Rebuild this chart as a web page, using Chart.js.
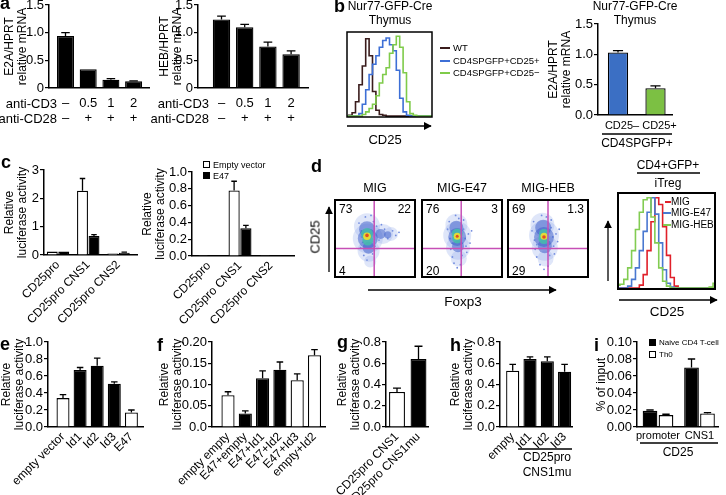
<!DOCTYPE html>
<html lang="fr">
<head>
<meta charset="utf-8">
<title>Figure E2A / HEB / CD25</title>
<script src="https://cdn.jsdelivr.net/npm/chart.js@4.4.1/dist/chart.umd.min.js"></script>
<style>
  html, body { margin: 0; padding: 0; background: #fff; }
  #fig { position: relative; width: 726px; height: 495px; overflow: hidden;
         font-family: 'Liberation Sans', Arial, Helvetica, sans-serif; color: #000; }
  #fig canvas, #fig svg { position: absolute; left: 0; top: 0; }
  .t { position: absolute; white-space: nowrap; line-height: 1; }
  .vertical { writing-mode: vertical-rl; }
  .lettre { position: absolute; font-weight: bold; font-size: 18px; line-height: 1; }
  .carre { position: absolute; width: 7px; height: 7px; border: 1px solid #000; box-sizing: border-box; }
  .trait { position: absolute; height: 2px; }
</style>
</head>
<body>
<div id="fig"></div>
<script>
// ---------- Données ----------

// a : ARNm relatif après stimulation anti-CD3 / anti-CD28
const aCategories = [['–', '–'], ['0.5', '+'], ['1', '+'], ['2', '+']];
const aTicks = ['0', '0.5', '1.0', '1.5'];
const aE2A = [0.94, 0.34, 0.15, 0.12];
const aE2AErr = [0.06, 0, 0.02, 0.01];
const aHEB = [1.24, 1.10, 0.75, 0.61];
const aHEBErr = [0.06, 0.05, 0.08, 0.06];

// b : histogrammes CD25 (thymus) + ARNm E2A
const histBins = [0, 4, 8, 12, 16, 20, 24, 28, 32, 36, 40, 44, 48, 52, 56, 60, 64, 68, 72, 76, 80, 84, 88, 92, 96, 100];
const bWT      = [1, 2, 5, 18, 38, 60, 92, 72, 30, 8, 3, 2, 1, 1, 1, 1, 1, 1, 1, 1, 1, 1, 1, 1, 1, 1];
const bCD25pos = [1, 1, 1, 1, 4, 15, 32, 50, 62, 72, 82, 90, 93, 85, 78, 55, 22, 6, 2, 1, 1, 1, 1, 1, 1, 1];
const bCD25neg = [1, 1, 1, 1, 1, 3, 6, 10, 15, 25, 40, 50, 58, 75, 85, 95, 82, 52, 18, 4, 2, 1, 1, 1, 1, 1];
const bCategories = ['CD25–', 'CD25+'];
const bTicks = ['0.0', '0.5', '1.0', '1.5'];
const bE2A = [1.03, 0.44];
const bE2AErr = [0.03, 0.04];

// c : activité luciférase, vecteur vide vs E47
const cCategories = ['CD25pro', 'CD25pro CNS1', 'CD25pro CNS2'];
const cTicksLeft = ['0', '1', '2', '3'];
const cEmptyLeft = [0.12, 2.27, 0.05];
const cEmptyLeftErr = [0, 0.43, 0];
const cE47Left = [0.12, 0.67, 0.08];
const cE47LeftErr = [0, 0.05, 0.02];
const cTicksRight = ['0.0', '0.2', '0.4', '0.6', '0.8', '1.0'];
const cEmptyRight = [0.01, 0.78, 0.01];
const cEmptyRightErr = [0, 0.11, 0];
const cE47Right = [0.01, 0.33, 0.01];
const cE47RightErr = [0, 0.035, 0];

// d : cytométrie (nuages Foxp3 / CD25, quadrants, histogrammes iTreg)
const dTitles = ['MIG', 'MIG-E47', 'MIG-HEB'];
const dQuadrants = [['73', '22', '4'], ['76', '3', '20'], ['69', '1.3', '29']];
const dGateX = [49, 49, 50];
const dGateY = [37, 37, 37];
// couches de densité : halo, bleu, cyan, jaune, rouge
const dCloudMIG = [
  [{ x: 40, y: 66, r: 13 }, { x: 41, y: 50, r: 15 }, { x: 42, y: 34, r: 11 }, { x: 44, y: 20, r: 6 }, { x: 60, y: 56, r: 10 }, { x: 70, y: 56, r: 7 }],
  [{ x: 40, y: 62, r: 8 }, { x: 41, y: 50, r: 10 }, { x: 42, y: 38, r: 6 }, { x: 57, y: 56, r: 5 }, { x: 66, y: 55, r: 3.5 }],
  [{ x: 40, y: 56, r: 6 }, { x: 41, y: 48, r: 5.5 }],
  [{ x: 40, y: 53, r: 3.8 }],
  [{ x: 40, y: 54, r: 1.8 }]
];
const dCloudE47 = [
  [{ x: 43, y: 68, r: 11 }, { x: 44, y: 54, r: 14 }, { x: 45, y: 38, r: 12 }, { x: 46, y: 24, r: 8 }],
  [{ x: 43, y: 64, r: 7 }, { x: 44, y: 52, r: 9 }, { x: 45, y: 40, r: 6 }],
  [{ x: 44, y: 56, r: 5.5 }, { x: 44, y: 50, r: 5 }],
  [{ x: 44, y: 53, r: 3.5 }],
  [{ x: 44, y: 53, r: 1.5 }]
];
const dCloudHEB = [
  [{ x: 43, y: 68, r: 12 }, { x: 45, y: 54, r: 15 }, { x: 46, y: 38, r: 13 }, { x: 47, y: 24, r: 8 }],
  [{ x: 44, y: 64, r: 8 }, { x: 45, y: 52, r: 10 }, { x: 46, y: 40, r: 7 }],
  [{ x: 45, y: 56, r: 5 }, { x: 45, y: 50, r: 5.5 }],
  [{ x: 45, y: 53, r: 3.5 }],
  [{ x: 45, y: 52, r: 1.8 }]
];
// événements isolés autour des nuages
const dSparseMIG = [[30, 70], [33, 60], [35, 45], [32, 38], [36, 28], [48, 72], [52, 66], [55, 48], [62, 62], [66, 50],
                    [72, 60], [76, 54], [80, 58], [38, 78], [45, 80], [50, 40], [47, 30], [40, 22], [34, 52], [58, 68]];
const dSparseE47 = [[32, 62], [35, 50], [36, 36], [38, 26], [40, 18], [52, 62], [54, 50], [55, 40], [50, 28], [48, 16],
                    [42, 80], [46, 76], [58, 56], [60, 44], [34, 72], [52, 74], [44, 12], [38, 44], [56, 32], [62, 60]];
const dSparseHEB = [[30, 60], [33, 48], [34, 36], [36, 26], [40, 16], [54, 64], [56, 52], [57, 40], [52, 28], [50, 14],
                    [42, 80], [48, 78], [60, 56], [62, 46], [32, 72], [54, 74], [45, 10], [36, 42], [58, 30], [64, 62]];
const dMIG = [1, 1, 1, 1, 1, 1, 4, 15, 40, 70, 95, 88, 65, 35, 12, 3, 1, 1, 1, 1, 1, 1, 1, 1, 1, 1];
const dE47 = [1, 1, 1, 3, 10, 22, 40, 60, 80, 95, 78, 48, 20, 6, 2, 1, 1, 1, 1, 1, 1, 1, 1, 1, 1, 1];
const dHEB = [4, 5, 10, 22, 40, 62, 80, 93, 95, 75, 48, 22, 8, 3, 1, 1, 1, 1, 1, 1, 1, 1, 1, 1, 2, 6];

// e : Id1-3 / E47
const eCategories = ['empty vector', 'Id1', 'Id2', 'Id3', 'E47'];
const eTicks = ['0.0', '0.2', '0.4', '0.6', '0.8', '1.0'];
const eValues = [0.34, 0.67, 0.72, 0.51, 0.17];
const eErr = [0.04, 0.03, 0.09, 0.02, 0.03];

// f : combinaisons E47 + Id
const fCategories = ['empty empty', 'E47+empty', 'E47+Id1', 'E47+Id2', 'E47+Id3', 'empty+Id2'];
const fTicks = ['0.0', '0.05', '0.10', '0.15', '0.20'];
const fValues = [0.075, 0.032, 0.115, 0.135, 0.11, 0.169];
const fErr = [0.008, 0.006, 0.017, 0.018, 0.015, 0.013];

// g : CNS1 muté
const gCategories = ['CD25pro CNS1', 'CD25pro CNS1mu'];
const gTicks = ['0.0', '0.2', '0.4', '0.6', '0.8'];
const gValues = [0.33, 0.64];
const gErr = [0.035, 0.12];

// h : CNS1 muté + Id
const hCategories = ['empty', 'Id1', 'Id2', 'Id3'];
const hTicks = ['0.0', '0.2', '0.4', '0.6', '0.8'];
const hValues = [0.53, 0.64, 0.62, 0.52];
const hErr = [0.06, 0.02, 0.04, 0.07];

// i : ChIP (% of input)
const iCategories = ['promoter', 'CNS1'];
const iTicks = ['0.00', '0.02', '0.04', '0.06', '0.08', '0.10'];
const iNaive = [0.019, 0.07];
const iNaiveErr = [0.001, 0.01];
const iTh0 = [0.014, 0.016];
const iTh0Err = [0.001, 0.001];

// ---------- Dessin ----------
document.addEventListener('DOMContentLoaded', () => {
  const W = 726, H = 495;
  const TITLE_LH = 13;
  const fig = document.getElementById('fig');

  Chart.defaults.font.family = "'Liberation Sans', Arial, Helvetica, sans-serif";
  Chart.defaults.color = '#000';

  const WHITE = '#ffffff';
  const BLACK = '#000000';
  const GATE = '#c64fb6';
  const cloudColors = ['rgba(130,160,230,0.26)', 'rgba(55,90,200,0.5)', 'rgba(70,190,170,0.85)',
                       'rgba(235,220,50,0.95)', 'rgba(225,70,35,0.95)'];
  const SPARSE = 'rgba(60,95,210,0.75)';

  // Barres d'erreur (seulement vers le haut)
  const errorBars = {
    id: 'errorBars',
    afterDatasetsDraw(chart) {
      const { ctx } = chart;
      const y = chart.scales.y;
      ctx.save();
      ctx.strokeStyle = '#000';
      ctx.lineWidth = 1.3;
      chart.data.datasets.forEach((ds, i) => {
        if (!ds.errors) return;
        chart.getDatasetMeta(i).data.forEach((bar, j) => {
          const err = ds.errors[j];
          if (!err) return;
          const top = y.getPixelForValue(ds.data[j].y + err);
          const half = bar.width / 4;
          ctx.beginPath();
          ctx.moveTo(bar.x, bar.y);
          ctx.lineTo(bar.x, top);
          ctx.moveTo(bar.x - half, top);
          ctx.lineTo(bar.x + half, top);
          ctx.stroke();
        });
      });
      ctx.restore();
    }
  };

  // Cadre autour de la zone de tracé
  const frame = {
    id: 'frame',
    afterDraw(chart, args, opts) {
      const { ctx, chartArea: a } = chart;
      ctx.save();
      ctx.strokeStyle = '#000';
      ctx.lineWidth = opts.width || 1.5;
      ctx.strokeRect(a.left, a.top, a.right - a.left, a.bottom - a.top);
      ctx.restore();
    }
  };

  function newCanvas() {
    const c = document.createElement('canvas');
    c.width = W;
    c.height = H;
    c.style.width = W + 'px';
    c.style.height = H + 'px';
    fig.appendChild(c);
    return c;
  }

  function baseOptions(padding) {
    return {
      responsive: false,
      devicePixelRatio: 1,
      animation: false,
      events: [],
      layout: { padding },
      plugins: { legend: { display: false }, tooltip: { enabled: false } }
    };
  }

  // Graphique en barres : g = géométrie de la zone de tracé
  function barChart(g, categories, tickText, yMax, series, title) {
    const yWidth = g.l - g.titleX + TITLE_LH / 2;
    const xHeight = H - g.b; // la zone des étiquettes va jusqu'en bas (sinon elles sont coupées)
    return new Chart(newCanvas(), {
      type: 'bar',
      data: {
        datasets: series.map(s => ({
          data: s.values.map((v, i) => ({ x: i, y: v })),
          errors: s.errors,
          backgroundColor: s.fill,
          borderColor: BLACK,
          borderWidth: 1.3,
          categoryPercentage: g.cp || 1,
          barPercentage: g.bp
        }))
      },
      options: {
        ...baseOptions({ left: g.l - yWidth, top: g.t, right: W - g.r, bottom: 0 }),
        scales: {
          x: {
            type: 'linear',
            min: (g.l - g.c0) / g.dx,
            max: (g.r - g.c0) / g.dx,
            offset: false,
            grid: { drawOnChartArea: false, drawTicks: false },
            border: { display: true, color: BLACK, width: 1.5 },
            ticks: {
              autoSkip: false,
              minRotation: g.rot || 0,
              maxRotation: g.rot || 0,
              padding: g.pad,
              labelOffset: g.shift || 0,
              font: { size: g.fs || 12, lineHeight: 1.15 },
              callback: v => categories[v]
            },
            afterBuildTicks: s => { s.ticks = categories.map((_, i) => ({ value: i })); },
            afterFit: s => { s.height = xHeight; s.paddingLeft = 0; s.paddingRight = 0; }
          },
          y: {
            min: 0,
            max: yMax,
            grid: { drawOnChartArea: false, drawTicks: true, tickLength: 4, color: BLACK, lineWidth: 1.2 },
            border: { display: true, color: BLACK, width: 1.5 },
            ticks: { autoSkip: false, padding: 1, font: { size: 13 }, callback: (v, i) => tickText[i] },
            afterBuildTicks: s => {
              s.ticks = tickText.map((_, i) => ({ value: yMax * i / (tickText.length - 1) }));
            },
            title: { display: true, text: title, padding: 0, font: { size: 12, lineHeight: TITLE_LH + 'px' } },
            afterFit: s => { s.width = yWidth; s.paddingTop = 0; s.paddingBottom = 0; }
          }
        }
      },
      plugins: [errorBars]
    });
  }

  // Histogramme de cytométrie
  function histChart(box, curves) {
    return new Chart(newCanvas(), {
      type: 'line',
      data: {
        datasets: curves.map(c => ({
          data: histBins.map((x, i) => ({ x, y: c.values[i] })),
          borderColor: c.color,
          borderWidth: 1.6,
          pointRadius: 0,
          stepped: 'middle',
          fill: false
        }))
      },
      options: {
        ...baseOptions({ left: box.l, top: box.t, right: W - box.r, bottom: H - box.b }),
        scales: {
          x: { type: 'linear', min: 0, max: 100, display: false },
          y: { min: 0, max: 100, display: false }
        },
        plugins: { legend: { display: false }, tooltip: { enabled: false }, frame: { width: box.frame } }
      },
      plugins: [frame]
    });
  }

  // Nuage de points Foxp3 / CD25 avec quadrants
  function dotPlot(box, cloud, sparse, gateX, gateY) {
    const sets = cloud.map((layer, k) => ({
      type: 'bubble',
      data: layer,
      backgroundColor: cloudColors[k],
      borderWidth: 0,
      order: 10 - k
    }));
    sets.push({ type: 'bubble', data: sparse.map(p => ({ x: p[0], y: p[1], r: 0.9 })), backgroundColor: SPARSE, borderWidth: 0, order: 11 });
    sets.push({ type: 'line', data: [{ x: gateX, y: 0 }, { x: gateX, y: 100 }], borderColor: GATE, borderWidth: 1.5, pointRadius: 0, order: 0 });
    sets.push({ type: 'line', data: [{ x: 0, y: gateY }, { x: 100, y: gateY }], borderColor: GATE, borderWidth: 1.5, pointRadius: 0, order: 0 });
    return new Chart(newCanvas(), {
      type: 'bubble',
      data: { datasets: sets },
      options: {
        ...baseOptions({ left: box.l, top: box.t, right: W - box.r, bottom: H - box.b }),
        scales: {
          x: { type: 'linear', min: 0, max: 100, display: false },
          y: { min: 0, max: 100, display: false }
        },
        plugins: { legend: { display: false }, tooltip: { enabled: false }, frame: { width: 2 } }
      },
      plugins: [frame]
    });
  }

  // Texte HTML positionné par son centre (ou bord)
  function txt(s, x, y, o = {}) {
    const d = document.createElement('div');
    d.className = 't';
    d.textContent = s;
    d.style.left = x + 'px';
    d.style.top = y + 'px';
    d.style.fontSize = (o.size || 12) + 'px';
    const ax = o.align === 'left' ? '0' : o.align === 'right' ? '-100%' : '-50%';
    if (o.vertical) {
      // texte qui se lit de bas en haut
      d.classList.add('vertical');
      d.style.transform = 'translate(-50%, -50%) rotate(180deg)';
    } else {
      d.style.transform = `translate(${ax}, -50%)`;
    }
    fig.appendChild(d);
  }

  function letter(ch, x, baseline) {
    const d = document.createElement('div');
    d.className = 'lettre';
    d.textContent = ch;
    d.style.left = x + 'px';
    d.style.top = (baseline - 15.2) + 'px';
    fig.appendChild(d);
  }

  function square(x, y, fill) {
    const d = document.createElement('div');
    d.className = 'carre';
    d.style.left = x + 'px';
    d.style.top = y + 'px';
    d.style.background = fill;
    fig.appendChild(d);
  }

  function dash(x, y, w, color) {
    const d = document.createElement('div');
    d.className = 'trait';
    d.style.left = x + 'px';
    d.style.top = (y - 1) + 'px';
    d.style.width = w + 'px';
    d.style.background = color;
    fig.appendChild(d);
  }

  // ---- a
  barChart({ l: 49, t: 5, r: 149, b: 88, c0: 65.5, dx: 22.7, bp: 0.75, titleX: 10, pad: 7.5, fs: 13 },
    aCategories, aTicks, 1.5,
    [{ values: aE2A, errors: aE2AErr, fill: BLACK }], ['E2A/HPRT', 'relative mRNA']);
  barChart({ l: 198, t: 5, r: 308, b: 88, c0: 221.5, dx: 23.2, bp: 0.75, titleX: 165, pad: 7.5, fs: 13 },
    aCategories, aTicks, 1.5,
    [{ values: aHEB, errors: aHEBErr, fill: BLACK }], ['HEB/HPRT', 'relative mRNA']);

  // ---- b
  histChart({ l: 347, t: 32, r: 432, b: 117, frame: 1.5 }, [
    { values: bCD25neg, color: '#7fcb4a' },
    { values: bCD25pos, color: '#3d6fd6' },
    { values: bWT, color: '#3a1c1c' }
  ]);
  barChart({ l: 598, t: 24, r: 672, b: 115, c0: 618, dx: 37.5, bp: 0.54, titleX: 554, pad: 5, shift: 4, fs: 11 },
    bCategories, bTicks, 1.5,
    [{ values: bE2A, errors: bE2AErr, fill: ['#3b6fc4', '#7cc043'] }], ['E2A/HPRT', 'relative mRNA']);

  // ---- c
  barChart({ l: 44, t: 170, r: 137, b: 255, c0: 58, dx: 30.25, cp: 0.76, bp: 0.95, titleX: 10, rot: 45, pad: 3 },
    cCategories, cTicksLeft, 3,
    [{ values: cEmptyLeft, errors: cEmptyLeftErr, fill: WHITE },
     { values: cE47Left, errors: cE47LeftErr, fill: BLACK }], ['Relative', 'luciferase activity']);
  barChart({ l: 192, t: 172, r: 294, b: 256, c0: 209, dx: 31, cp: 0.76, bp: 0.95, titleX: 148, rot: 45, pad: 3 },
    cCategories, cTicksRight, 1.0,
    [{ values: cEmptyRight, errors: cEmptyRightErr, fill: WHITE },
     { values: cE47Right, errors: cE47RightErr, fill: BLACK }], ['Relative', 'luciferase activity']);

  // ---- d
  const dBoxes = [{ l: 335, t: 200, r: 415, b: 277 }, { l: 422, t: 200, r: 502, b: 277 }, { l: 508, t: 200, r: 588, b: 277 }];
  const dClouds = [dCloudMIG, dCloudE47, dCloudHEB];
  const dSparse = [dSparseMIG, dSparseE47, dSparseHEB];
  dBoxes.forEach((box, k) => {
    dotPlot(box, dClouds[k], dSparse[k], dGateX[k], dGateY[k]);
    txt(dTitles[k], (box.l + box.r) / 2, 188, { size: 12.5 });
    txt(dQuadrants[k][0], box.l + 4, box.t + 9, { size: 12, align: 'left' });
    txt(dQuadrants[k][1], box.r - 4, box.t + 9, { size: 12, align: 'right' });
    txt(dQuadrants[k][2], box.l + 4, box.t + 71, { size: 12, align: 'left' });
  });
  histChart({ l: 618, t: 193, r: 715, b: 289, frame: 2 }, [
    { values: dHEB, color: '#82cc52' },
    { values: dE47, color: '#4a78d0' },
    { values: dMIG, color: '#e0202a' }
  ]);

  // ---- e à i
  barChart({ l: 48, t: 342, r: 143, b: 427, c0: 63, dx: 17.1, bp: 0.76, titleX: 7, rot: 45, pad: 3 },
    eCategories, eTicks, 1.0,
    [{ values: eValues, errors: eErr, fill: [WHITE, BLACK, BLACK, BLACK, WHITE] }], ['Relative', 'luciferase activity']);
  barChart({ l: 212, t: 342, r: 325, b: 427, c0: 228, dx: 17.3, bp: 0.76, titleX: 165, rot: 45, pad: 3 },
    fCategories, fTicks, 0.2,
    [{ values: fValues, errors: fErr, fill: [WHITE, BLACK, BLACK, BLACK, WHITE, WHITE] }], ['Relative', 'luciferase activity']);
  barChart({ l: 386, t: 342, r: 428, b: 427, c0: 397, dx: 21.5, bp: 0.74, titleX: 343, rot: 45, pad: 3 },
    gCategories, gTicks, 0.8,
    [{ values: gValues, errors: gErr, fill: [WHITE, BLACK] }], ['Relative', 'luciferase activity']);
  barChart({ l: 500, t: 342, r: 572, b: 427, c0: 512.7, dx: 17.3, bp: 0.76, titleX: 456, rot: 45, pad: 3 },
    hCategories, hTicks, 0.8,
    [{ values: hValues, errors: hErr, fill: [WHITE, BLACK, BLACK, BLACK] }], ['Relative', 'luciferase activity']);
  barChart({ l: 637, t: 342, r: 718, b: 427, c0: 658, dx: 41.5, cp: 0.77, bp: 0.92, titleX: 602, pad: 3, fs: 11 },
    iCategories, iTicks, 0.10,
    [{ values: iNaive, errors: iNaiveErr, fill: BLACK },
     { values: iTh0, errors: iTh0Err, fill: WHITE }], '% of input');

  // ---- Textes, légendes et flèches
  [['a', 0, 9], ['b', 334, 12], ['c', 1, 168], ['d', 311, 172], ['e', 0, 350],
   ['f', 157, 351], ['g', 337, 348], ['h', 450, 351], ['i', 594, 351]].forEach(l => letter(...l));

  txt('anti-CD3', 57, 103, { size: 13, align: 'right' });
  txt('anti-CD28', 57, 118, { size: 13, align: 'right' });
  txt('anti-CD3', 209, 103, { size: 13, align: 'right' });
  txt('anti-CD28', 209, 118, { size: 13, align: 'right' });

  txt('Nur77-GFP-Cre', 390, 6);
  txt('Thymus', 390, 20);
  txt('CD25', 385, 139, { size: 13 });
  dash(440, 48, 10, '#3a1c1c');
  dash(440, 61, 10, '#3d6fd6');
  dash(440, 73, 10, '#7fcb4a');
  txt('WT', 453, 48, { size: 9.5, align: 'left' });
  txt('CD4SPGFP+CD25+', 453, 61, { size: 9.5, align: 'left' });
  txt('CD4SPGFP+CD25−', 453, 73, { size: 9.5, align: 'left' });
  txt('Nur77-GFP-Cre', 635, 6);
  txt('Thymus', 635, 20);
  txt('CD4SPGFP+', 637, 143);

  square(203, 161, WHITE);
  square(203, 172, BLACK);
  txt('Empty vector', 213, 164.5, { size: 9, align: 'left' });
  txt('E47', 213, 175.5, { size: 9, align: 'left' });

  txt('CD25', 315, 237, { size: 13, vertical: true });
  txt('Foxp3', 463, 302, { size: 13.5 });
  txt('CD4+GFP+', 668, 165);
  txt('iTreg', 668, 183);
  txt('CD25', 667, 312, { size: 13.5 });
  dash(665, 202, 6, '#e0202a');
  dash(663, 213, 8, '#4a78d0');
  dash(663, 225, 8, '#82cc52');
  txt('MIG', 671, 202, { size: 10, align: 'left' });
  txt('MIG-E47', 671, 213, { size: 10, align: 'left' });
  txt('MIG-HEB', 671, 225, { size: 10, align: 'left' });

  txt('CD25pro', 547, 457);
  txt('CNS1mu', 547, 472);

  square(649, 339, BLACK);
  square(649, 351, WHITE);
  txt('Naive CD4 T-cell', 659, 342.5, { size: 8, align: 'left' });
  txt('Th0', 659, 354.5, { size: 8, align: 'left' });
  txt('CD25', 678, 452);

  const svgNS = 'http://www.w3.org/2000/svg';
  const svg = document.createElementNS(svgNS, 'svg');
  svg.setAttribute('width', W);
  svg.setAttribute('height', H);
  svg.innerHTML = '<defs><marker id="fl" viewBox="0 0 10 10" refX="9" refY="5" markerWidth="7" markerHeight="6" orient="auto"><path d="M0,0 L10,5 L0,10 z" fill="#000"/></marker></defs>';
  function line(x1, y1, x2, y2, arrow) {
    const l = document.createElementNS(svgNS, 'line');
    l.setAttribute('x1', x1); l.setAttribute('y1', y1);
    l.setAttribute('x2', x2); l.setAttribute('y2', y2);
    l.setAttribute('stroke', '#000');
    l.setAttribute('stroke-width', 1.3);
    if (arrow) l.setAttribute('marker-end', 'url(#fl)');
    svg.appendChild(l);
  }
  line(347, 126, 431, 126, true);
  line(329, 272, 329, 207, true);
  line(368, 290, 556, 290, true);
  line(608, 281, 608, 221, true);
  line(619, 300, 717, 300, true);
  line(602, 134, 672, 134);
  line(637, 173, 700, 173);
  line(518, 449, 572, 449);
  line(640, 443, 718, 443);
  fig.appendChild(svg);
});
</script>
</body>
</html>
